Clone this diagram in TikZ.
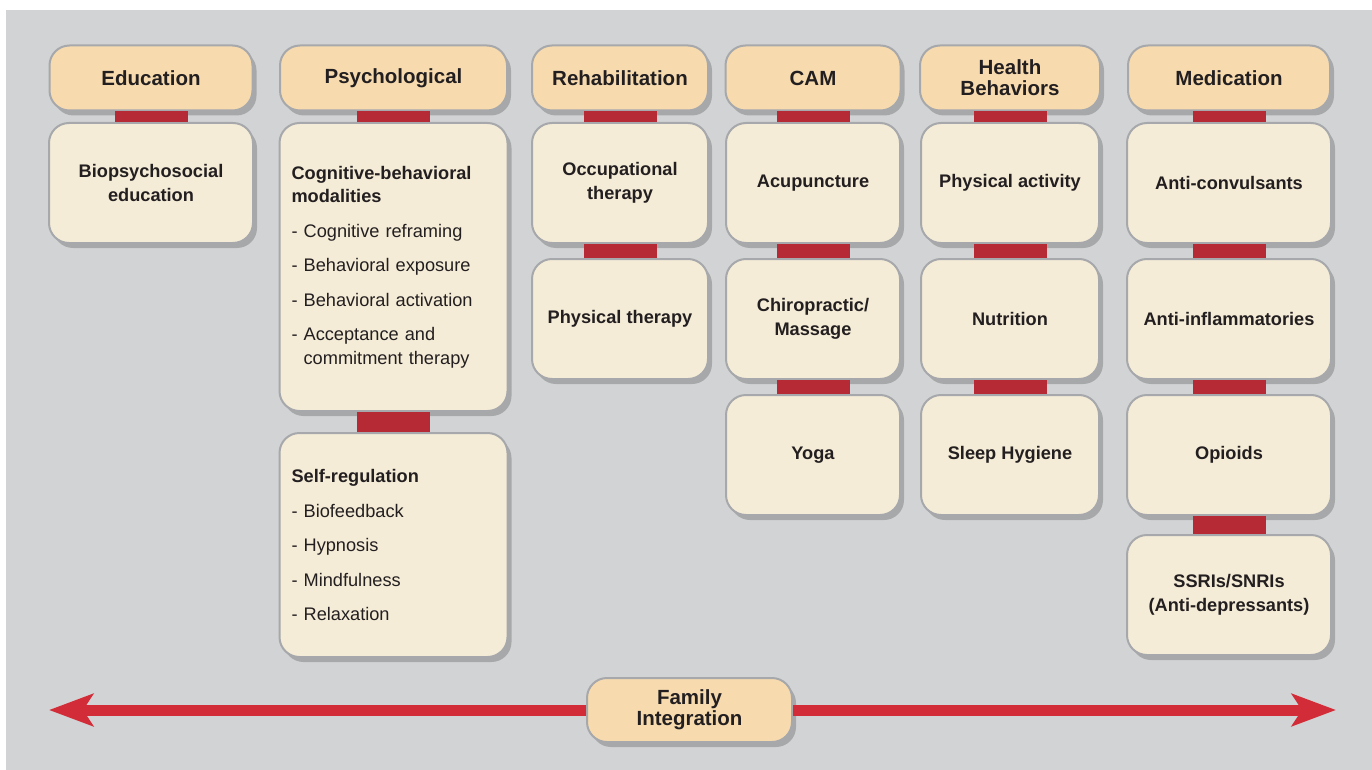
\documentclass[tikz,border=0pt]{standalone}
\usepackage{fontspec}
\setmainfont{Liberation Sans}
\usetikzlibrary{positioning,shadows,arrows.meta}

\definecolor{panelgray}{HTML}{D1D3D4}
\definecolor{headfill}{HTML}{F7DBAF}
\definecolor{entryfill}{HTML}{F5ECD7}
\definecolor{boxedge}{HTML}{A6A8AB}
\definecolor{linkred}{HTML}{B52A35}
\definecolor{arrowred}{HTML}{D12C38}
\definecolor{inktext}{HTML}{231F20}

\begin{document}
\begin{tikzpicture}[x=1pt,y=-1pt,node distance=14pt]

        \tikzstyle{header} = [rectangle, rounded corners=20pt, minimum height=65pt, align=center, draw=boxedge, line width=2pt, fill=headfill, text=inktext, font=\bfseries\fontsize{20.5}{21}\selectfont, drop shadow={shadow xshift=4pt, shadow yshift=-5pt, opacity=0.2, fill=black}]
        \tikzstyle{entry} = [rectangle, rounded corners=20pt, minimum height=120pt, align=center, draw=boxedge, line width=2pt, fill=entryfill, text=inktext, font=\bfseries\fontsize{18.2}{23.5}\selectfont, drop shadow={shadow xshift=4pt, shadow yshift=-5pt, opacity=0.2, fill=black}]
        \tikzstyle{listbox} = [entry, align=left, text width=204pt, inner xsep=12pt, font=\fontsize{18.2}{23.5}\selectfont]
        \tikzstyle{link} = [fill=linkred]
        \tikzstyle{famline} = [line width=11pt, draw=arrowred, -{Stealth[length=44pt,width=32pt,inset=10pt]}]

        \useasboundingbox (0,0) rectangle (1372,770);
        \fill [panelgray] (6,10) rectangle (1372,770);

        % column heads
        \node (edu) [header, minimum width=203pt] at (151,78) {Education};
        \node (psy) [header, minimum width=227pt] at (393.5,78) {Psychological};
        \node (reh) [header, minimum width=176pt] at (620,78) {Rehabilitation};
        \node (cam) [header, minimum width=175pt] at (813,78) {CAM};
        \node (hb) [header, minimum width=180pt] at (1010,78) {Health\\Behaviors};
        \node (med) [header, minimum width=202pt] at (1229,78) {Medication};

        % column entries
        \node (eduA) [entry, minimum width=204pt, below=10.5pt of edu] {Biopsychosocial\\education};

        \node (psyA) [listbox, minimum height=288pt, below=10.5pt of psy] {\textbf{Cognitive-behavioral}\\\textbf{modalities}\\[11pt]
            - Cognitive reframing\\[11pt]
            - Behavioral exposure\\[11pt]
            - Behavioral activation\\[11pt]
            - Acceptance and\\
            \phantom{- }commitment therapy};
        \node (psyB) [listbox, minimum height=224pt, below=20pt of psyA] {\textbf{Self-regulation}\\[11pt]
            - Biofeedback\\[11pt]
            - Hypnosis\\[11pt]
            - Mindfulness\\[11pt]
            - Relaxation};

        \node (rehA) [entry, minimum width=176pt, below=10.5pt of reh] {Occupational\\therapy};
        \node (rehB) [entry, minimum width=176pt, below=of rehA] {Physical therapy};

        \node (camA) [entry, minimum width=174pt, below=10.5pt of cam] {Acupuncture};
        \node (camB) [entry, minimum width=174pt, below=of camA] {Chiropractic/\\Massage};
        \node (camC) [entry, minimum width=174pt, below=of camB] {Yoga};

        \node (hbA) [entry, minimum width=178pt, below=10.5pt of hb] {Physical activity};
        \node (hbB) [entry, minimum width=178pt, below=of hbA] {Nutrition};
        \node (hbC) [entry, minimum width=178pt, below=of hbB] {Sleep Hygiene};

        \node (medA) [entry, minimum width=204pt, below=10.5pt of med] {Anti-convulsants};
        \node (medB) [entry, minimum width=204pt, below=of medA] {Anti-inflammatories};
        \node (medC) [entry, minimum width=204pt, below=of medB] {Opioids};
        \node (medD) [entry, minimum width=204pt, below=18pt of medC] {SSRIs/SNRIs\\(Anti-depressants)};

        % red links
        \fill [link] ([xshift=-36.5pt]edu.south) rectangle ([xshift=36.5pt]eduA.north);
        \fill [link] ([xshift=-36.5pt]psy.south) rectangle ([xshift=36.5pt]psyA.north);
        \fill [link] ([xshift=-36.5pt]psyA.south) rectangle ([xshift=36.5pt]psyB.north);
        \fill [link] ([xshift=-36.5pt]reh.south) rectangle ([xshift=36.5pt]rehA.north);
        \fill [link] ([xshift=-36.5pt]rehA.south) rectangle ([xshift=36.5pt]rehB.north);
        \fill [link] ([xshift=-36.5pt]cam.south) rectangle ([xshift=36.5pt]camA.north);
        \fill [link] ([xshift=-36.5pt]camA.south) rectangle ([xshift=36.5pt]camB.north);
        \fill [link] ([xshift=-36.5pt]camB.south) rectangle ([xshift=36.5pt]camC.north);
        \fill [link] ([xshift=-36.5pt]hb.south) rectangle ([xshift=36.5pt]hbA.north);
        \fill [link] ([xshift=-36.5pt]hbA.south) rectangle ([xshift=36.5pt]hbB.north);
        \fill [link] ([xshift=-36.5pt]hbB.south) rectangle ([xshift=36.5pt]hbC.north);
        \fill [link] ([xshift=-36.5pt]med.south) rectangle ([xshift=36.5pt]medA.north);
        \fill [link] ([xshift=-36.5pt]medA.south) rectangle ([xshift=36.5pt]medB.north);
        \fill [link] ([xshift=-36.5pt]medB.south) rectangle ([xshift=36.5pt]medC.north);
        \fill [link] ([xshift=-36.5pt]medC.south) rectangle ([xshift=36.5pt]medD.north);

        % family integration arrow
        \coordinate (westtip) at (49,710);
        \coordinate (easttip) at (1336,710);
        \node (fam) [header, minimum width=205pt, minimum height=64pt] at (689.5,710) {Family\\Integration};
        \draw [famline] (fam.west) -- (westtip);
        \draw [famline] (fam.east) -- (easttip);
    \end{tikzpicture}
\end{document}
